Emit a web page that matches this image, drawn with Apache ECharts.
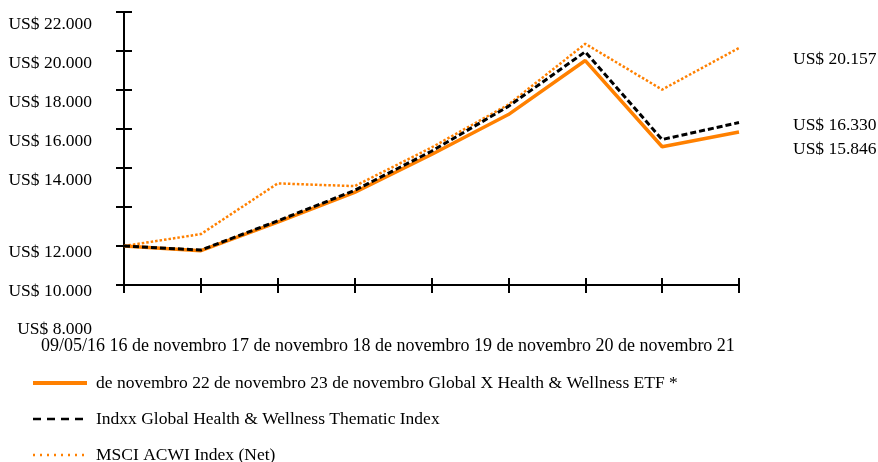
<!DOCTYPE html>
<html>
<head>
<meta charset="utf-8">
<script src="https://cdn.jsdelivr.net/npm/echarts@6/dist/echarts.min.js"></script>
<style>
  html, body { margin: 0; padding: 0; background: #fff; }
  #container { width: 878px; height: 462px; }
</style>
</head>
<body>
<div id="container"></div>
<script>
var xCategories = ['09/05/16', '16 de novembro', '17 de novembro', '18 de novembro', '19 de novembro',
    '20 de novembro', '21 de novembro', '22 de novembro', '23 de novembro'];
var etfName = 'Global X Health & Wellness ETF *';
var indexName = 'Indxx Global Health & Wellness Thematic Index';
var msciName = 'MSCI ACWI Index (Net)';
var etfValues = [10000, 9760, 11220, 12750, 14690, 16740, 19510, 15090, 15846];
var indexValues = [10000, 9790, 11290, 12850, 14860, 17160, 19960, 15460, 16330];
var msciValues = [10000, 10610, 13210, 13070, 15050, 17250, 20370, 18020, 20157];
var yTicks = [8000, 10000, 12000, 14000, 16000, 18000, 20000, 22000];
var yTickLabels = ['US$ 8.000', 'US$ 10.000', 'US$ 12.000', 'US$ 14.000', 'US$ 16.000',
    'US$ 18.000', 'US$ 20.000', 'US$ 22.000'];

var orange = '#ff8000';
var font = 'Liberation Serif';
var fs = 17.5;

function money(v) {
    return 'US$ ' + String(v).replace(/\B(?=(\d{3})+(?!\d))/g, '.');
}

// texto das categorias corre numa linha e continua na legenda
var flow = xCategories.join(' ');
var cut = flow.indexOf('21') + 2;
var flowLine1 = flow.slice(0, cut);
var flowRest = flow.slice(cut + 1);

// rotulos do eixo y deslocados como no original
function yLabel(value) {
    var i = yTicks.indexOf(value);
    if (value >= 14000) return '{hi|' + yTickLabels[i] + '}';
    if (value === 12000) return '';
    if (value === 10000) return '{lo|' + yTickLabels[i + 1] + '}';
    return '{lo|' + yTickLabels[i + 1] + '}\n{lo2|' + yTickLabels[i] + '}';
}

var myChart = echarts.init(document.getElementById('container'));

var option = {
    animation: false,
    textStyle: { fontFamily: font },
    grid: { left: 124, right: 139, top: 12, bottom: 177 },
    xAxis: [{
        type: 'category',
        boundaryGap: false,
        data: xCategories,
        axisLine: { lineStyle: { color: '#000', width: 2 } },
        axisTick: { show: true, interval: 0, inside: false, length: 8, lineStyle: { color: '#000', width: 2 } },
        axisLabel: { show: false, interval: 0 },
        splitLine: { show: false }
    }, {
        type: 'category',
        boundaryGap: false,
        data: xCategories,
        position: 'bottom',
        axisLine: { show: false },
        axisTick: { show: true, interval: 0, inside: true, length: 7, lineStyle: { color: '#000', width: 2 } },
        axisLabel: { show: false, interval: 0 },
        splitLine: { show: false }
    }],
    yAxis: [{
        type: 'value',
        min: 8000,
        max: 22000,
        interval: 2000,
        axisLine: { show: true, lineStyle: { color: '#000', width: 2 } },
        axisTick: { show: true, inside: false, length: 8, lineStyle: { color: '#000', width: 2 } },
        splitLine: { show: false },
        axisLabel: {
            margin: 32,
            verticalAlign: 'top',
            formatter: yLabel,
            rich: {
                hi: { fontFamily: font, fontSize: fs, color: '#000', lineHeight: 24 },
                lo: { fontFamily: font, fontSize: fs, color: '#000', lineHeight: 12 },
                lo2: { fontFamily: font, fontSize: fs, color: '#000', lineHeight: 64 }
            }
        }
    }, {
        type: 'value',
        min: 8000,
        max: 22000,
        interval: 2000,
        position: 'left',
        axisLine: { show: false },
        axisTick: { show: true, inside: true, length: 8, lineStyle: { color: '#000', width: 2 } },
        splitLine: { show: false },
        axisLabel: { show: false }
    }],
    legend: {
        orient: 'vertical',
        left: 31,
        top: 373,
        height: 100,
        padding: 0,
        itemWidth: 54,
        itemHeight: 14,
        itemGap: 16,
        itemStyle: { opacity: 0 },
        textStyle: { fontFamily: font, fontSize: fs, color: '#000', lineHeight: 20, padding: [0, 0, 0, 4] },
        formatter: function (name) {
            return name === etfName ? flowRest + ' ' + name : name;
        },
        data: [
            { name: etfName, lineStyle: { width: 4 } },
            { name: indexName, lineStyle: { width: 2.5, type: [8, 6] } },
            { name: msciName, lineStyle: { width: 2.5, type: [2, 5] } }
        ]
    },
    graphic: [{
        type: 'text',
        left: 41,
        top: 337,
        style: { text: flowLine1, font: '18px "' + font + '"', fill: '#000' }
    }],
    series: [{
        name: etfName,
        type: 'line',
        data: etfValues,
        symbol: 'none',
        z: 2,
        lineStyle: { color: orange, width: 3.5 },
        itemStyle: { color: orange },
        endLabel: {
            show: true, formatter: function (p) { return money(p.value); },
            offset: [46, 17], fontFamily: font, fontSize: fs, color: '#000'
        }
    }, {
        name: indexName,
        type: 'line',
        data: indexValues,
        symbol: 'none',
        z: 4,
        lineStyle: { color: '#000', width: 3, type: [6, 3] },
        itemStyle: { color: '#000' },
        endLabel: {
            show: true, formatter: function (p) { return money(p.value); },
            offset: [46, 3], fontFamily: font, fontSize: fs, color: '#000'
        }
    }, {
        name: msciName,
        type: 'line',
        data: msciValues,
        symbol: 'none',
        z: 3,
        lineStyle: { color: orange, width: 2.5, type: [2.5, 2] },
        itemStyle: { color: orange },
        endLabel: {
            show: true, formatter: function (p) { return money(p.value); },
            offset: [46, 11], fontFamily: font, fontSize: fs, color: '#000'
        }
    }]
};

myChart.setOption(option);
</script>
</body>
</html>
